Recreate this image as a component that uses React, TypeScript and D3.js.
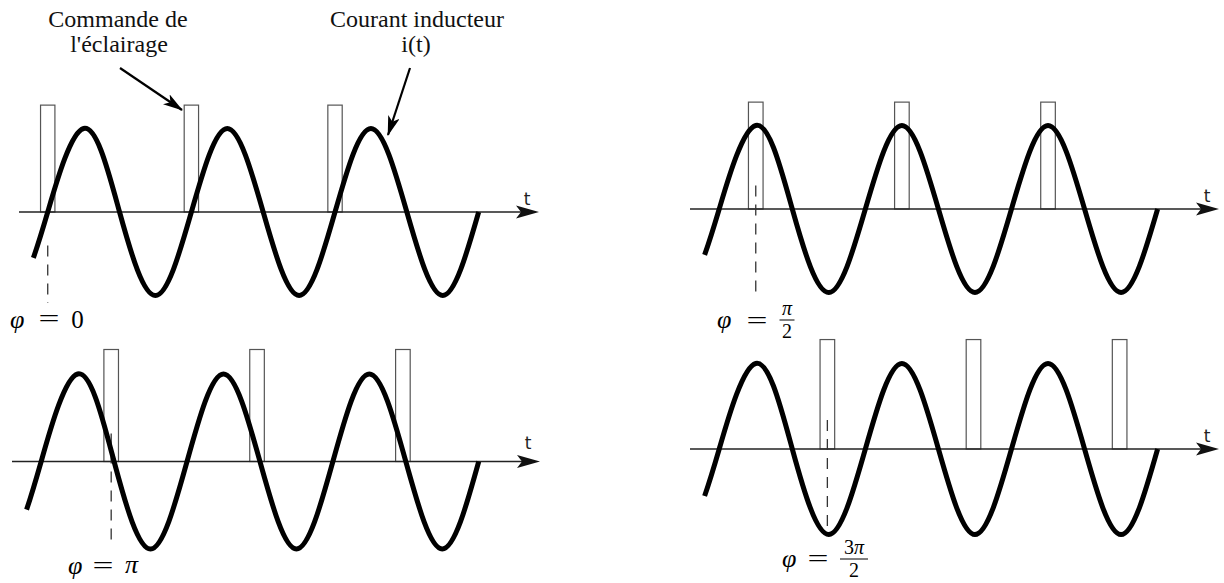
import * as d3 from "d3";

// i(t) read at quarter periods (t in periods), plus the visible start of the trace
const waveT = [-0.1, 0, 0.25, 0.5, 0.75, 1, 1.25, 1.5, 1.75, 2, 2.25, 2.5, 2.75, 3];
const waveI = [-0.55, 0, 1, 0, -1, 0, 1, 0, -1, 0, 1, 0, -1, 0];

// one panel per phase: 0, π/2, π, 3π/2
const pulseOffsets = [0, 0.25, 0.48, 0.74];
const pulseCycles = [0, 1, 2];
const pulseWidth = 0.1;
const pulseHeight = 1.28;
const dashTop = [-0.4, 0.28, 0.32, 0.34];
const dashBottom = [-1.09, -1.03, -0.9, -0.92];
const tDomain = [-0.2, 3.42];

const panels = [
  { xr: [19, 539], y0: 212, amp: 83.5, tDy: -7 },
  { xr: [690, 1219], y0: 209, amp: 83.5, tDy: -7 },
  { xr: [12, 540], y0: 461.5, amp: 87.5, tDy: -13 },
  { xr: [690, 1219], y0: 449, amp: 85.5, tDy: -7 },
];

const serif = "Liberation Serif, Times New Roman, serif";
const serifStyle = { fontFamily: serif };

function Eq({ x, y, w = 21 }: { x: number; y: number; w?: number }) {
  return (
    <text x={x - w / 2} y={y + 7} style={serifStyle} fontSize={25}
      textLength={w} lengthAdjust="spacingAndGlyphs">=</text>
  );
}

function Phi({ x, y }: { x: number; y: number }) {
  return (
    <text x={x} y={y} style={serifStyle} fontSize={26} fontStyle="italic">{"\u03c6"}</text>
  );
}

function Frac({ cx, bar, num, den, w }: { cx: number; bar: number; num: any; den: string; w: number }) {
  return (
    <g style={serifStyle} fontSize={20} textAnchor="middle">
      <text x={cx} y={bar - 5}>{num}</text>
      <line x1={cx - w / 2} x2={cx + w / 2} y1={bar} y2={bar} stroke="#000" strokeWidth={1} />
      <text x={cx} y={bar + 18}>{den}</text>
    </g>
  );
}

function Panel({ idx }: { idx: number }) {
  const p = panels[idx];
  const x = d3.scaleLinear().domain(tDomain).range(p.xr);
  const y = d3.scaleLinear().domain([-1, 1]).range([p.y0 + p.amp, p.y0 - p.amp]);
  const pts = waveT.map((t, i) => [t, waveI[i]] as [number, number]);
  const line = d3.line<[number, number]>()
    .x(d => x(d[0]))
    .y(d => y(d[1]))
    .curve(d3.curveNatural);
  const x0 = x(tDomain[0]);
  const tip = x(tDomain[1]);
  const ay = y(0);
  const off = pulseOffsets[idx];
  const dx = x(off);
  return (
    <g>
      {pulseCycles.map(k => (
        <rect key={k}
          x={x(off + k - pulseWidth / 2)} y={y(pulseHeight)}
          width={x(off + k + pulseWidth / 2) - x(off + k - pulseWidth / 2)}
          height={y(0) - y(pulseHeight)}
          fill="none" stroke="#555" strokeWidth={1.2} />
      ))}
      <line x1={x0} x2={tip - 18} y1={ay} y2={ay} stroke="#222" strokeWidth={1.6} />
      <path d={`M${tip},${ay} L${tip - 23},${ay - 6.5} L${tip - 18},${ay} L${tip - 23},${ay + 6.5} Z`} fill="#111" />
      <text x={tip - 12} y={ay + p.tDy} textAnchor="middle" style={{ fontFamily: "DejaVu Sans, sans-serif" }} fontSize={17} fill="#222">t</text>
      <line x1={dx} x2={dx} y1={y(dashTop[idx])} y2={y(dashBottom[idx])}
        stroke="#333" strokeWidth={1.3} strokeDasharray="11 8" />
      <path d={line(pts) ?? ""} fill="none" stroke="#000" strokeWidth={5} />
    </g>
  );
}

export default function App() {
  return (
    <div style={{ position: "absolute", left: 0, top: 0, background: "#fff" }}>
      <svg width={1224} height={583} viewBox="0 0 1224 583" style={{ display: "block" }}>
        <defs>
          <marker id="ann-head" viewBox="0 0 20 12" refX={19} refY={6}
            markerWidth={20} markerHeight={12} markerUnits="userSpaceOnUse" orient="auto">
            <path d="M0,0 L20,6 L0,12 L5,6 Z" fill="#000" />
          </marker>
        </defs>
        <rect width={1224} height={583} fill="#fff" />
        {panels.map((_, i) => <Panel key={i} idx={i} />)}

        <g style={serifStyle} fontSize={24} textAnchor="middle" fill="#111">
          <text x={118} y={27}>Commande de</text>
          <text x={119} y={52}>l'éclairage</text>
          <text x={417} y={27}>Courant inducteur</text>
          <text x={416} y={52}>i(t)</text>
        </g>
        <line x1={120} y1={68} x2={182} y2={110} stroke="#000" strokeWidth={2.2} markerEnd="url(#ann-head)" />
        <line x1={410} y1={68} x2={388} y2={135} stroke="#000" strokeWidth={2.2} markerEnd="url(#ann-head)" />

        {/* φ = 0 */}
        <Phi x={10} y={328} />
        <Eq x={49} y={320} />
        <text x={77.5} y={328} textAnchor="middle" style={serifStyle} fontSize={25}>0</text>

        {/* φ = π/2 */}
        <Phi x={717} y={328} />
        <Eq x={757} y={322} />
        <Frac cx={787} bar={320} num={<tspan fontStyle="italic">π</tspan>} den="2" w={15} />

        {/* φ = π */}
        <Phi x={68} y={574} />
        <Eq x={103} y={567} />
        <text x={131.5} y={573} textAnchor="middle" style={serifStyle} fontSize={26} fontStyle="italic">π</text>

        {/* φ = 3π/2 */}
        <Phi x={782} y={567} />
        <Eq x={818} y={560} />
        <Frac cx={854} bar={559} num={<><tspan>3</tspan><tspan fontStyle="italic">π</tspan></>} den="2" w={28} />
      </svg>
    </div>
  );
}
